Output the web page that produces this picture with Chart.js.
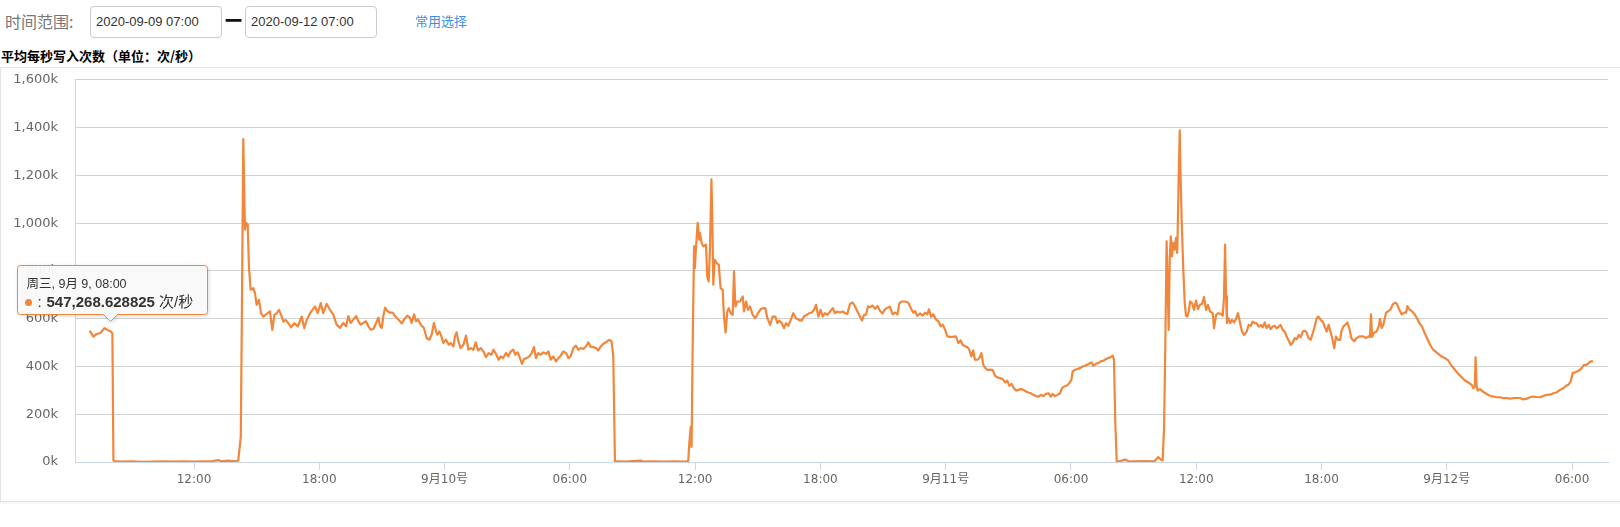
<!DOCTYPE html>
<html>
<head>
<meta charset="utf-8">
<script src="https://cdn.jsdelivr.net/npm/chart.js@4/dist/chart.umd.min.js"></script>
<style>
  html, body { margin: 0; padding: 0; background: #fff; overflow: hidden; }
  body { width: 1620px; height: 527px; position: relative; font-family: 'Liberation Sans', 'Noto Sans CJK SC', sans-serif; }
  .lbl { position: absolute; left: 5px; top: 10px; font-size: 16px; line-height: 22px; color: #777; font-family: 'Noto Sans CJK SC', sans-serif; }
  .date { position: absolute; top: 6px; width: 125px; height: 30px; border: 1px solid #ccc; border-radius: 4px;
          font-size: 13px; line-height: 30px; color: #333; padding-left: 5px; box-sizing: content-box; }
  .dash { position: absolute; left: 225px; top: 9px; font-size: 17px; line-height: 22px; font-weight: 900; color: #111;
          font-family: 'Noto Sans CJK SC', sans-serif; }
  .link { position: absolute; left: 415px; top: 11px; font-size: 13px; line-height: 20px; color: #3f8fe4; font-family: 'Noto Sans CJK SC', sans-serif; }
  .title { position: absolute; left: 1px; top: 46px; font-size: 13px; line-height: 20px; font-weight: bold; color: #000; font-family: 'Noto Sans CJK SC', sans-serif; }
  .box { position: absolute; left: 0; top: 67px; width: 1630px; height: 433px; border: 1px solid #e4e4e4; box-shadow: 0 1px 2px rgba(0,0,0,0.08); }
  #chart { position: absolute; left: 0; top: 55px; }
</style>
</head>
<body>
<div class="lbl">时间范围:</div>
<div class="date" style="left:90px">2020-09-09 07:00</div>
<div class="dash">一</div>
<div class="date" style="left:245px">2020-09-12 07:00</div>
<div class="link">常用选择</div>
<div class="title">平均每秒写入次数（单位：次/秒）</div>
<div class="box"></div>
<canvas id="chart" width="1620" height="446"></canvas>
<script>
// hours counted from 2020-09-09 00:00, values in thousands of writes per second
const hours = [
  7.0, 7.18, 7.34, 7.5, 7.71, 7.85, 8.0, 8.09, 8.14, 8.19, 8.5, 9.0, 9.5, 10.0, 10.5, 11.0, 11.5, 12.0, 12.5, 12.9,
  13.15, 13.3, 13.6, 14.0, 14.12, 14.24, 14.28, 14.36, 14.44, 14.49, 14.57, 14.63, 14.71, 14.84, 14.92, 15.0, 15.11, 15.21, 15.32, 15.48,
  15.64, 15.75, 15.85, 15.96, 16.07, 16.17, 16.28, 16.39, 16.52, 16.65, 16.81, 16.97, 17.16, 17.28, 17.4, 17.56, 17.67, 17.8, 17.92, 18.07,
  18.19, 18.35, 18.51, 18.67, 18.83, 18.99, 19.15, 19.28, 19.39, 19.5, 19.63, 19.76, 19.87, 19.98, 20.11, 20.24, 20.35, 20.46, 20.59, 20.72,
  20.83, 20.91, 20.99, 21.07, 21.15, 21.26, 21.39, 21.51, 21.63, 21.79, 21.95, 22.06, 22.22, 22.34, 22.42, 22.54, 22.63, 22.74, 22.86, 23.01,
  23.14, 23.27, 23.38, 23.49, 23.59, 23.65, 23.75, 23.85, 23.94, 24.07, 24.2, 24.29, 24.42, 24.5, 24.58, 24.66, 24.77, 24.9, 25.03, 25.14,
  25.25, 25.38, 25.49, 25.6, 25.73, 25.86, 25.98, 26.11, 26.24, 26.34, 26.46, 26.59, 26.69, 26.81, 26.94, 27.05, 27.17, 27.29, 27.39, 27.5,
  27.61, 27.71, 27.8, 27.93, 28.06, 28.17, 28.28, 28.38, 28.49, 28.6, 28.73, 28.86, 28.97, 29.08, 29.21, 29.34, 29.45, 29.56, 29.69, 29.82,
  29.93, 30.04, 30.17, 30.29, 30.41, 30.52, 30.65, 30.77, 30.89, 31.0, 31.12, 31.25, 31.36, 31.48, 31.6, 31.73, 31.84, 31.92, 32.0, 32.08,
  32.16, 32.3, 32.7, 33.0, 33.4, 33.5, 34.0, 34.5, 35.0, 35.5, 35.67, 35.72, 35.79, 35.83, 35.88, 35.95, 35.99, 36.04, 36.12, 36.19,
  36.23, 36.31, 36.39, 36.52, 36.58, 36.65, 36.71, 36.78, 36.82, 36.87, 36.94, 37.03, 37.13, 37.22, 37.32, 37.38, 37.46, 37.54, 37.61, 37.7,
  37.8, 37.86, 37.93, 38.02, 38.15, 38.28, 38.34, 38.44, 38.53, 38.63, 38.76, 38.88, 39.01, 39.14, 39.27, 39.36, 39.46, 39.59, 39.71, 39.84,
  39.94, 40.03, 40.15, 40.26, 40.35, 40.46, 40.58, 40.7, 40.83, 40.96, 41.1, 41.21, 41.34, 41.47, 41.6, 41.69, 41.79, 41.9, 42.01, 42.11,
  42.22, 42.33, 42.46, 42.59, 42.7, 42.81, 42.94, 43.07, 43.18, 43.29, 43.42, 43.54, 43.66, 43.77, 43.9, 43.99, 44.09, 44.18, 44.28, 44.38,
  44.5, 44.62, 44.73, 44.86, 44.98, 45.09, 45.21, 45.33, 45.46, 45.57, 45.69, 45.78, 45.89, 46.05, 46.21, 46.32, 46.45, 46.53, 46.64, 46.77,
  46.9, 47.01, 47.12, 47.2, 47.3, 47.41, 47.54, 47.65, 47.76, 47.86, 47.97, 48.08, 48.21, 48.34, 48.49, 48.61, 48.72, 48.81, 48.93, 49.04,
  49.13, 49.23, 49.32, 49.4, 49.52, 49.61, 49.71, 49.8, 49.9, 49.99, 50.12, 50.25, 50.36, 50.47, 50.6, 50.73, 50.86, 50.95, 51.05, 51.16,
  51.24, 51.37, 51.48, 51.59, 51.72, 51.85, 51.96, 52.07, 52.2, 52.33, 52.44, 52.55, 52.68, 52.8, 52.92, 53.03, 53.12, 53.24, 53.35, 53.48,
  53.57, 53.67, 53.79, 53.92, 54.02, 54.08, 54.19, 54.31, 54.43, 54.56, 54.67, 54.78, 54.91, 54.99, 55.07, 55.2, 55.31, 55.42, 55.55, 55.68,
  55.79, 55.9, 56.0, 56.06, 56.12, 56.19, 56.3, 56.59, 56.8, 57.0, 57.5, 58.0, 58.18, 58.34, 58.39, 58.46, 58.52, 58.58, 58.63, 58.68,
  58.73, 58.78, 58.84, 58.9, 58.97, 59.03, 59.09, 59.16, 59.21, 59.25, 59.3, 59.38, 59.45, 59.51, 59.57, 59.64, 59.7, 59.8, 59.89, 59.99,
  60.08, 60.18, 60.28, 60.37, 60.47, 60.56, 60.66, 60.79, 60.85, 60.95, 61.06, 61.17, 61.27, 61.33, 61.38, 61.43, 61.47, 61.54, 61.62, 61.71,
  61.81, 61.9, 62.0, 62.1, 62.19, 62.29, 62.42, 62.51, 62.61, 62.7, 62.8, 62.89, 62.99, 63.09, 63.18, 63.28, 63.37, 63.47, 63.56, 63.66,
  63.76, 63.85, 63.95, 64.04, 64.14, 64.24, 64.33, 64.43, 64.52, 64.62, 64.71, 64.81, 64.91, 65.0, 65.1, 65.19, 65.29, 65.38, 65.48, 65.58,
  65.67, 65.77, 65.85, 65.96, 66.06, 66.15, 66.25, 66.34, 66.44, 66.53, 66.61, 66.69, 66.79, 66.89, 66.95, 67.04, 67.14, 67.24, 67.33, 67.43,
  67.56, 67.68, 67.84, 68.0, 68.13, 68.24, 68.32, 68.37, 68.42, 68.51, 68.64, 68.74, 68.8, 68.88, 68.96, 69.09, 69.2, 69.31, 69.41, 69.52,
  69.6, 69.73, 69.84, 69.95, 70.05, 70.11, 70.21, 70.32, 70.43, 70.56, 70.68, 70.81, 70.94, 71.07, 71.2, 71.32, 71.45, 71.59, 71.75, 71.91,
  72.07, 72.23, 72.39, 72.55, 72.71, 72.87, 73.03, 73.19, 73.27, 73.34, 73.38, 73.43, 73.48, 73.59, 73.72, 73.85, 73.97, 74.1, 74.23, 74.39,
  74.55, 74.71, 74.87, 75.03, 75.19, 75.35, 75.51, 75.67, 75.83, 75.98, 76.14, 76.3, 76.46, 76.62, 76.78, 76.94, 77.1, 77.26, 77.42, 77.58,
  77.71, 77.82, 77.93, 78.03, 78.14, 78.25, 78.38, 78.46, 78.57, 78.7, 78.79, 78.89, 79.0
];
const writesK = [
  550, 525, 536, 539, 560, 553, 547.268628825, 539, 7, 4, 2, 3, 1, 2, 3, 2, 3, 2, 3, 4,
  8, 3, 6, 3, 7, 105, 497, 1352, 973, 1001, 994, 819, 721, 728, 707, 658, 679, 623, 609, 620,
  630, 553, 616, 623, 637, 616, 588, 595, 581, 564, 581, 567, 609, 560, 595, 623, 637, 651, 623, 665,
  623, 662, 637, 617, 575, 561, 582, 568, 611, 582, 596, 611, 589, 575, 582, 589, 568, 554, 557, 582,
  604, 568, 561, 611, 646, 632, 625, 625, 611, 596, 580, 596, 613, 604, 582, 618, 589, 596, 575, 561,
  519, 512, 533, 582, 547, 533, 547, 526, 498, 512, 491, 498, 484, 526, 543, 505, 477, 491, 529, 470,
  477, 470, 501, 467, 477, 463, 439, 456, 449, 470, 453, 428, 442, 435, 456, 442, 463, 470, 449, 459,
  435, 411, 431, 435, 442, 456, 481, 435, 456, 449, 459, 453, 463, 428, 442, 421, 435, 445, 463, 456,
  435, 442, 477, 487, 470, 477, 473, 484, 501, 481, 481, 477, 467, 484, 495, 501, 509, 511, 504, 441,
  3, 3, 2, 4, 6, 2, 3, 2, 3, 2, 4, 77, 147, 63, 469, 903, 812, 896, 1001, 931,
  959, 917, 903, 910, 777, 756, 889, 1183, 1029, 742, 847, 833, 826, 728, 721, 609, 542, 630, 644, 623,
  616, 798, 651, 672, 672, 693, 630, 672, 637, 651, 616, 602, 623, 640, 644, 644, 602, 574, 609, 609,
  581, 592, 581, 560, 581, 570, 595, 623, 602, 595, 592, 609, 616, 623, 626, 637, 658, 609, 637, 609,
  623, 616, 630, 644, 623, 630, 626, 630, 623, 620, 662, 668, 651, 630, 609, 592, 616, 616, 651, 648,
  655, 641, 653, 632, 622, 639, 646, 650, 618, 625, 618, 664, 672, 672, 667, 646, 625, 632, 611, 622,
  613, 625, 618, 639, 608, 618, 596, 589, 568, 575, 554, 526, 524, 524, 526, 498, 509, 491, 484, 481,
  470, 442, 467, 428, 428, 435, 456, 407, 393, 386, 386, 386, 361, 355, 351, 347, 333, 341, 319, 327,
  313, 299, 302, 305, 302, 295, 291, 288, 281, 276, 274, 281, 276, 285, 288, 274, 285, 276, 281, 288,
  309, 316, 319, 330, 344, 379, 386, 389, 393, 400, 403, 407, 414, 417, 403, 411, 414, 421, 424, 431,
  435, 439, 445, 428, 175, 3, 3, 10, 2, 3, 4, 3, 21, 7, 7, 147, 497, 924, 749, 553,
  847, 945, 861, 917, 889, 938, 875, 1197, 1388, 1197, 1015, 805, 665, 612, 609, 630, 672, 665, 637, 676,
  640, 658, 662, 690, 637, 658, 630, 623, 560, 616, 623, 620, 612, 693, 910, 693, 581, 602, 581, 595,
  584, 598, 623, 581, 546, 532, 546, 574, 570, 588, 581, 581, 567, 574, 564, 584, 560, 574, 556, 567,
  570, 560, 567, 574, 553, 546, 525, 508, 490, 500, 518, 514, 532, 522, 546, 550, 542, 518, 511, 539,
  567, 602, 609, 595, 588, 567, 546, 574, 542, 511, 476, 525, 511, 511, 546, 567, 574, 584, 560, 518,
  505, 519, 526, 526, 519, 526, 524, 618, 524, 540, 547, 568, 599, 561, 575, 625, 632, 639, 660, 667,
  664, 636, 618, 625, 625, 653, 639, 632, 622, 604, 582, 568, 540, 515, 491, 473, 463, 453, 442, 435,
  425, 403, 386, 369, 355, 341, 333, 323, 309, 316, 438, 316, 299, 305, 295, 288, 281, 276, 274, 271,
  271, 267, 268, 265, 267, 268, 268, 262, 265, 271, 274, 272, 271, 276, 281, 282, 288, 291, 302, 309,
  319, 323, 337, 372, 375, 379, 386, 393, 407, 407, 414, 421, 421
];
const tickHours = [12, 18, 24, 30, 36, 42, 48, 54, 60, 66, 72, 78];
const tickLabels = ['12:00', '18:00', '9月10号', '06:00', '12:00', '18:00', '9月11号', '06:00', '12:00', '18:00', '9月12号', '06:00'];
const yTicks = [0, 200, 400, 600, 800, 1000, 1200, 1400, 1600];
const noteHour = 8.0;   // point shown with the hover note
const weekdays = ['周日', '周一', '周二', '周三', '周四', '周五', '周六'];

const lineColor = '#f2863a';

Chart.defaults.font.family = "'DejaVu Sans', 'Noto Sans CJK SC', sans-serif";
Chart.defaults.color = '#666';

// draws the fixed tooltip box above the 08:00 point
const hoverNote = {
  id: 'hoverNote',
  afterDraw(chart) {
    const idx = hours.indexOf(noteHour);
    const pt = chart.getDatasetMeta(0).data[idx];
    const ctx = chart.ctx;
    const w = 190, h = 49;
    const left = Math.round(pt.x - 93) + 0.5;
    const bottom = Math.round(pt.y - 17) + 0.5;
    const top = bottom - h;
    const r = 3, cx = Math.round(pt.x) + 0.5;

    ctx.save();
    ctx.beginPath();
    ctx.moveTo(left + r, top);
    ctx.lineTo(left + w - r, top);
    ctx.arcTo(left + w, top, left + w, top + r, r);
    ctx.lineTo(left + w, bottom - r);
    ctx.arcTo(left + w, bottom, left + w - r, bottom, r);
    ctx.lineTo(cx + 7, bottom);
    ctx.lineTo(cx, bottom + 7);
    ctx.lineTo(cx - 7, bottom);
    ctx.lineTo(left + r, bottom);
    ctx.arcTo(left, bottom, left, bottom - r, r);
    ctx.lineTo(left, top + r);
    ctx.arcTo(left, top, left + r, top, r);
    ctx.closePath();
    ctx.shadowColor = 'rgba(0,0,0,0.18)';
    ctx.shadowBlur = 4;
    ctx.shadowOffsetX = 1;
    ctx.shadowOffsetY = 1;
    ctx.fillStyle = 'rgba(250,250,250,0.96)';
    ctx.fill();
    ctx.shadowColor = 'transparent';
    ctx.strokeStyle = lineColor;
    ctx.lineWidth = 1;
    ctx.stroke();

    const d = new Date(2020, 8, 9, 0, 0);
    d.setMinutes(noteHour * 60);
    const hh = String(d.getHours()).padStart(2, '0');
    const mm = String(d.getMinutes()).padStart(2, '0');
    const title = weekdays[d.getDay()] + ', ' + (d.getMonth() + 1) + '月 ' + d.getDate() + ', ' + hh + ':' + mm;

    ctx.textBaseline = 'middle';
    ctx.textAlign = 'left';
    ctx.fillStyle = '#333';
    ctx.font = "12.5px 'Liberation Sans', 'Noto Sans CJK SC', sans-serif";
    ctx.fillText(title, left + 9, top + 19);

    const by = top + 37;
    ctx.beginPath();
    ctx.arc(left + 11, by, 3.5, 0, Math.PI * 2);
    ctx.fillStyle = lineColor;
    ctx.fill();

    ctx.fillStyle = '#333';
    ctx.font = "15px 'Liberation Sans', 'Noto Sans CJK SC', sans-serif";
    ctx.fillText(':', left + 20, by);
    const num = (writesK[idx] * 1000).toLocaleString('en-US', { minimumFractionDigits: 6, maximumFractionDigits: 6 });
    ctx.font = "bold 15px 'Liberation Sans', 'Noto Sans CJK SC', sans-serif";
    ctx.fillText(num, left + 29, by);
    const nw = ctx.measureText(num).width;
    ctx.font = "15px 'Liberation Sans', 'Noto Sans CJK SC', sans-serif";
    ctx.fillText(' 次/秒', left + 29 + nw, by);
    ctx.restore();
  }
};

new Chart(document.getElementById('chart'), {
  type: 'line',
  data: {
    datasets: [{
      data: hours.map((h, i) => ({ x: h, y: writesK[i] })),
      borderColor: lineColor,
      borderWidth: 2.2,
      pointRadius: 0,
      tension: 0,
      fill: false,
      borderJoinStyle: 'round'
    }]
  },
  options: {
    responsive: false,
    animation: false,
    devicePixelRatio: 1,
    layout: { padding: { top: 0, right: 12, bottom: 0, left: 0 } },
    plugins: { legend: { display: false }, tooltip: { enabled: false } },
    scales: {
      x: {
        type: 'linear',
        min: 6.3,
        max: 79.72,
        afterBuildTicks: s => { s.ticks = tickHours.map(v => ({ value: v })); },
        afterFit: s => { s.height = 39; },
        grid: { drawOnChartArea: false, drawTicks: true, tickLength: 8, color: '#ccd6eb' },
        border: { color: '#ccd6eb', width: 1 },
        ticks: {
          autoSkip: false,
          maxRotation: 0,
          padding: 3,
          font: { size: 12 },
          color: '#666',
          callback: v => tickLabels[tickHours.indexOf(v)]
        }
      },
      y: {
        min: 0,
        max: 1600,
        afterBuildTicks: s => { s.ticks = yTicks.map(v => ({ value: v })); },
        afterFit: s => { s.width = 75; },
        grid: { color: '#d2d2d2', drawTicks: false },
        border: { color: '#ccd6eb', width: 1 },
        ticks: {
          padding: 17,
          font: { size: 13 },
          color: '#666',
          callback: v => v.toLocaleString('en-US') + 'k'
        }
      }
    }
  },
  plugins: [hoverNote]
});
</script>
</body>
</html>
